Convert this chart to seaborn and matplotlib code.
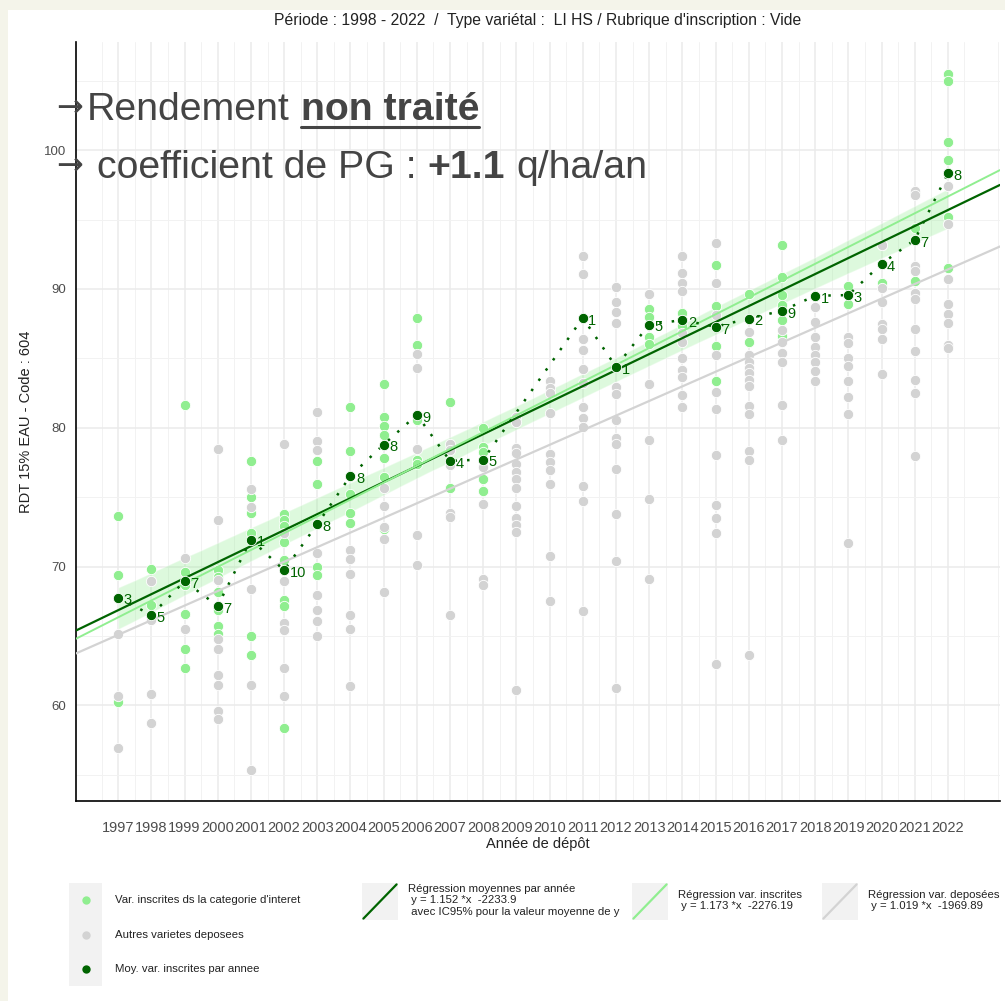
import numpy as np
import pandas as pd
import matplotlib
matplotlib.use("Agg")
import matplotlib.pyplot as plt
import seaborn as sns
from matplotlib.legend_handler import HandlerBase
from matplotlib.patches import Rectangle
from matplotlib.lines import Line2D

# --- data ---
# varietes inscrites (vert clair); some sit hidden under the yearly mean points
green_year = [1997, 1997, 1997,
              1998, 1998,
              1999, 1999, 1999, 1999, 1999, 1999,
              2000, 2000, 2000, 2000, 2000, 2000,
              2001, 2001, 2001, 2001, 2001, 2001,
              2002, 2002, 2002, 2002, 2002, 2002, 2002, 2002,
              2003, 2003, 2003, 2003, 2003,
              2004, 2004, 2004, 2004, 2004,
              2005, 2005, 2005, 2005, 2005, 2005, 2005,
              2006, 2006, 2006, 2006, 2006,
              2007, 2007, 2007,
              2008, 2008, 2008, 2008, 2008,
              2011,
              2012,
              2013, 2013, 2013, 2013,
              2014, 2014, 2014,
              2015, 2015, 2015, 2015,
              2016, 2016, 2016,
              2017, 2017, 2017, 2017, 2017, 2017,
              2018,
              2019, 2019,
              2020, 2020, 2020,
              2021, 2021, 2021, 2021,
              2022, 2022, 2022, 2022, 2022, 2022, 2022]
green_rdt = [73.65, 69.42, 60.2,
             69.83, 67.21,
             81.63, 69.61, 68.65, 66.6, 64.09, 62.72,
             69.73, 69.25, 68.13, 66.85, 65.7, 65.17,
             77.61, 75.02, 73.89, 72.38, 65.0, 63.65,
             73.75, 73.34, 72.93, 71.73, 70.45, 67.62, 67.14, 58.36,
             77.61, 75.98, 73.09, 69.97, 69.42,
             81.46, 78.31, 75.21, 73.87, 73.1,
             83.12, 80.74, 80.14, 79.51, 77.83, 76.46, 72.7,
             87.92, 85.93, 80.55, 77.66, 77.37,
             81.82, 77.4, 75.69,
             79.99, 78.62, 78.22, 76.34, 75.45,
             87.92,
             84.39,
             88.55, 87.99, 86.55, 86.0,
             88.28, 87.76, 87.33,
             91.72, 88.77, 85.88, 83.38,
             89.61, 87.87, 86.2,
             93.16, 90.83, 89.56, 88.84, 87.76, 86.63,
             89.51,
             90.23, 88.91,
             93.17, 91.81, 90.45,
             96.9, 94.39, 93.54, 90.6,
             105.46, 105.0, 100.6, 99.32, 98.33, 95.2, 91.5]

# autres varietes deposees (gris)
gray_year = ([1997] * 3 + [1998] * 4 + [1999] * 2 + [2000] * 9 + [2001] * 5 +
             [2002] * 7 + [2003] * 8 + [2004] * 6 + [2005] * 5 + [2006] * 5 +
             [2007] * 6 + [2008] * 4 + [2009] * 13 + [2010] * 10 + [2011] * 12 +
             [2012] * 13 + [2013] * 5 + [2014] * 11 + [2015] * 11 + [2016] * 12 +
             [2017] * 6 + [2018] * 8 + [2019] * 8 + [2020] * 7 + [2021] * 11 +
             [2022] * 8)
gray_rdt = [65.14, 60.65, 56.92,
            68.96, 66.18, 60.79, 58.75,
            70.58, 65.53,
            78.46, 73.34, 69.0, 64.8, 64.09, 62.21, 61.49, 59.57, 59.04,
            75.62, 74.3, 68.36, 61.49, 55.36,
            78.82, 72.38, 68.96, 65.93, 65.41, 62.69, 60.65,
            81.15, 79.03, 78.43, 71.0, 67.93, 66.85, 66.08, 64.97,
            71.18, 70.53, 69.49, 66.49, 65.53, 61.39,
            75.67, 74.35, 72.86, 71.97, 68.13,
            85.35, 84.32, 78.46, 72.3, 70.09,
            78.82, 78.39, 77.3, 73.87, 73.58, 66.49,
            77.18, 74.54, 69.08, 68.7,
            80.79, 80.43, 78.51, 78.15, 77.37, 76.82, 76.29, 75.67, 74.35, 73.46, 72.98, 72.5, 61.08,
            83.36, 82.88, 82.47, 81.03, 78.1, 77.54, 76.94, 75.93, 70.74, 67.5,
            92.37, 91.05, 86.37, 85.6, 84.2, 83.19, 81.51, 80.71, 80.06, 75.79, 74.73, 66.8,
            90.16, 89.03, 88.36, 87.52, 82.95, 82.4, 80.55, 79.27, 78.82, 77.02, 73.75, 70.41, 61.25,
            89.61, 83.12, 79.1, 74.9, 69.08,
            92.37, 91.12, 90.4, 89.87, 86.8, 86.2, 85.0, 84.15, 83.67, 82.35, 81.46,
            93.29, 90.4, 88.12, 85.23, 82.55, 81.34, 78.07, 74.42, 73.53, 72.38, 63.0,
            86.92, 85.23, 84.75, 84.3, 83.91, 83.43, 82.99, 81.58, 80.96, 78.31, 77.66, 63.6,
            87.04, 86.2, 85.37, 84.75, 81.63, 79.15,
            88.67, 87.64, 86.56, 85.83, 85.23, 84.71, 84.08, 83.38,
            86.55, 86.12, 85.0, 84.44, 83.38, 82.23, 80.96, 71.71,
            93.17, 90.05, 89.09, 87.48, 87.12, 86.36, 83.87,
            97.05, 96.75, 91.66, 91.27, 89.69, 89.29, 87.12, 85.54, 83.42, 82.48, 77.94,
            97.42, 94.69, 90.75, 88.94, 88.23, 87.57, 85.99, 85.75]

# moyennes par annee + effectifs
mean_year = [1997, 1998, 1999, 2000, 2001, 2002, 2003, 2004, 2005, 2006, 2007, 2008,
             2011, 2012, 2013, 2014, 2015, 2016, 2017, 2018, 2019, 2020, 2021, 2022]
mean_rdt = [67.76, 66.5, 68.94, 67.16, 71.94, 69.73, 73.05, 76.53, 78.79, 80.93, 77.61, 77.71,
            87.92, 84.39, 87.44, 87.76, 87.28, 87.87, 88.43, 89.51, 89.56, 91.81, 93.54, 98.33]
mean_n = [3, 5, 7, 7, 1, 10, 8, 8, 8, 9, 4, 5, 1, 1, 5, 2, 7, 2, 9, 1, 3, 4, 7, 8]

years = list(range(1997, 2023))

green = pd.DataFrame({"annee": green_year, "rdt": green_rdt})
gray = pd.DataFrame({"annee": gray_year, "rdt": gray_rdt})
deposees = pd.concat([gray, green], ignore_index=True)  # all deposited varieties
means = pd.DataFrame({"annee": mean_year, "rdt": mean_rdt, "n": mean_n})

LIGHT = "#90EE90"
GREY = "#D3D3D3"
DARK = "#006400"

sns.set_style("white")
plt.rcParams["font.family"] = ["Liberation Sans", "DejaVu Sans"]

W, H = 1005, 1001
fig = plt.figure(figsize=(W / 100, H / 100), dpi=100)
fig.patch.set_facecolor("#F4F4EA")
fig.add_artist(Rectangle((8 / W, 0), 1, 1 - 10 / H, transform=fig.transFigure,
                         facecolor="white", edgecolor="none", zorder=-10))

ax = fig.add_axes([76 / W, 1 - 801 / H, (1000 - 76) / W, (801 - 42) / H])
ax.set_xlim(1995.73, 2023.57)
ax.set_ylim(53.1, 107.8)

# points
sns.scatterplot(data=green, x="annee", y="rdt", color=LIGHT, s=55, edgecolor="white",
                linewidth=0.6, ax=ax, zorder=2, legend=False)
sns.scatterplot(data=gray, x="annee", y="rdt", color=GREY, s=55, edgecolor="white",
                linewidth=0.6, ax=ax, zorder=2, legend=False)

# IC95 band on the yearly means
sns.regplot(data=means, x="annee", y="rdt", scatter=False, ci=95, truncate=True, seed=3,
            color=LIGHT, line_kws={"alpha": 0}, ax=ax)
ax.collections[-1].set_alpha(0.3)
ax.collections[-1].set_zorder(1.5)

# regression lines over the full range
sns.regplot(data=deposees, x="annee", y="rdt", scatter=False, ci=None, truncate=False,
            color=GREY, line_kws={"lw": 1.6, "zorder": 3}, ax=ax)
sns.regplot(data=means, x="annee", y="rdt", scatter=False, ci=None, truncate=False,
            color=DARK, line_kws={"lw": 1.6, "zorder": 3}, ax=ax)
sns.regplot(data=green, x="annee", y="rdt", scatter=False, ci=None, truncate=False,
            color=LIGHT, line_kws={"lw": 1.4, "zorder": 3.1}, ax=ax)

# yearly means
sns.lineplot(data=means, x="annee", y="rdt", color=DARK, linestyle=(0, (1, 4)), lw=1.8,
             ax=ax, zorder=4)
sns.scatterplot(data=means, x="annee", y="rdt", color=DARK, s=55, edgecolor="white",
                linewidth=0.6, ax=ax, zorder=5, legend=False)
for yr, v, n in zip(mean_year, mean_rdt, mean_n):
    ax.annotate(str(n), (yr, v), xytext=(4, -2), textcoords="offset points",
                fontsize=10.5, color=DARK, va="center", ha="left", zorder=6)

ax.set_xlim(1995.73, 2023.57)
ax.set_ylim(53.1, 107.8)

# axes style
ax.set_xticks(years)
ax.set_xticks(np.arange(1996.5, 2024, 1), minor=True)
ax.set_yticks([60, 70, 80, 90, 100])
ax.set_yticks([55, 65, 75, 85, 95, 105], minor=True)
ax.grid(True, which="major", color="#EBEBEB", lw=1.1)
ax.grid(True, which="minor", color="#F2F2F2", lw=0.7)
ax.set_axisbelow(True)
for s in ["top", "right"]:
    ax.spines[s].set_visible(False)
for s in ["left", "bottom"]:
    ax.spines[s].set_color("black")
    ax.spines[s].set_linewidth(1.2)
ax.tick_params(axis="both", which="major", length=3.5, width=0.8, color="#333333",
               labelcolor="#4D4D4D", labelsize=9.5)
ax.tick_params(axis="x", which="major", pad=11, labelsize=10.5)
ax.tick_params(axis="both", which="minor", length=0)
ax.set_xlabel("Année de dépôt", fontsize=10.5, color="#222222", labelpad=1)
ax.set_ylabel("RDT 15% EAU - Code : 604", fontsize=10.5, color="#222222", labelpad=8)
ax.set_title("Période : 1998 - 2022  /  Type variétal :  LI HS / Rubrique d'inscription : Vide",
             fontsize=11.3, color="#222222", pad=12)


# legends (ggplot-like keys)
class PointKey(HandlerBase):
    def create_artists(self, legend, orig_handle, xdescent, ydescent, width, height,
                       fontsize, trans):
        box = Rectangle((-xdescent, -ydescent), width, height, facecolor="#F2F2F2",
                        edgecolor="none", transform=trans)
        dot = Line2D([width / 2 - xdescent], [height / 2 - ydescent], marker="o",
                     markersize=6, markeredgewidth=0, linestyle="none",
                     color=orig_handle.get_color(), transform=trans)
        return [box, dot]


class DiagKey(HandlerBase):
    def create_artists(self, legend, orig_handle, xdescent, ydescent, width, height,
                       fontsize, trans):
        box = Rectangle((-xdescent, -ydescent), width, height, facecolor="#F2F2F2",
                        edgecolor="none", transform=trans)
        ln = Line2D([-xdescent + 1, -xdescent + width - 1], [-ydescent + 1, -ydescent + height - 1],
                    color=orig_handle.get_color(), lw=1.6, transform=trans)
        return [box, ln]


leg_kw = dict(loc="upper left", frameon=False, fontsize=8.2, borderpad=0, borderaxespad=0,
              labelcolor="#222222")

pts = [Line2D([], [], color=c) for c in (LIGHT, GREY, DARK)]
fig.legend(pts, ["Var. inscrites ds la categorie d'interet", "Autres varietes deposees",
                 "Moy. var. inscrites par annee"],
           bbox_to_anchor=(69 / W, 1 - 883 / H), handlelength=2.9, handleheight=4.28,
           labelspacing=0, handletextpad=1.14, handler_map={Line2D: PointKey()}, **leg_kw)

line_legends = [
    (DARK, "Régression moyennes par année\n y = 1.152 *x  -2233.9\n avec IC95% pour la valeur moyenne de y", 362),
    (LIGHT, "Régression var. inscrites\n y = 1.173 *x  -2276.19", 632),
    (GREY, "Régression var. deposées\n y = 1.019 *x  -1969.89", 822),
]
for col, lab, x0 in line_legends:
    fig.legend([Line2D([], [], color=col)], [lab], bbox_to_anchor=(x0 / W, 1 - 883 / H),
               handlelength=3.16, handleheight=4.62, handletextpad=0.9,
               handler_map={Line2D: DiagKey()}, **leg_kw)

# overlay annotation
fig.canvas.draw()
r = fig.canvas.get_renderer()
TXT = "#444444"
FS = 28.3


def text_width(s, weight="normal"):
    t = fig.text(0, 0, s, fontsize=FS, fontweight=weight)
    w = t.get_window_extent(renderer=r).width
    t.remove()
    return w


space = text_width("a a") - text_width("aa")


def put_runs(x0, base, runs):
    x = x0
    for s, weight, under in runs:
        fig.text(x / W, 1 - base / H, s, fontsize=FS, fontweight=weight, color=TXT,
                 ha="left", va="baseline")
        w = text_width(s, weight)
        if under:
            fig.add_artist(Line2D([x / W, (x + w) / W], [1 - (base + 7) / H] * 2,
                                  transform=fig.transFigure, color=TXT, lw=2.2))
        x += w + space


for base in (120, 178):
    fig.text(83 / W, 1 - base / H + 0.004, "→", fontsize=23, color=TXT, ha="right",
             va="baseline", family=["DejaVu Sans"])

put_runs(87, 120, [("Rendement", "normal", False), ("non traité", "bold", True)])
put_runs(97, 178, [("coefficient de PG :", "normal", False), ("+1.1", "bold", False),
                   ("q/ha/an", "normal", False)])

fig.savefig("out.png", dpi=100, facecolor=fig.get_facecolor())
